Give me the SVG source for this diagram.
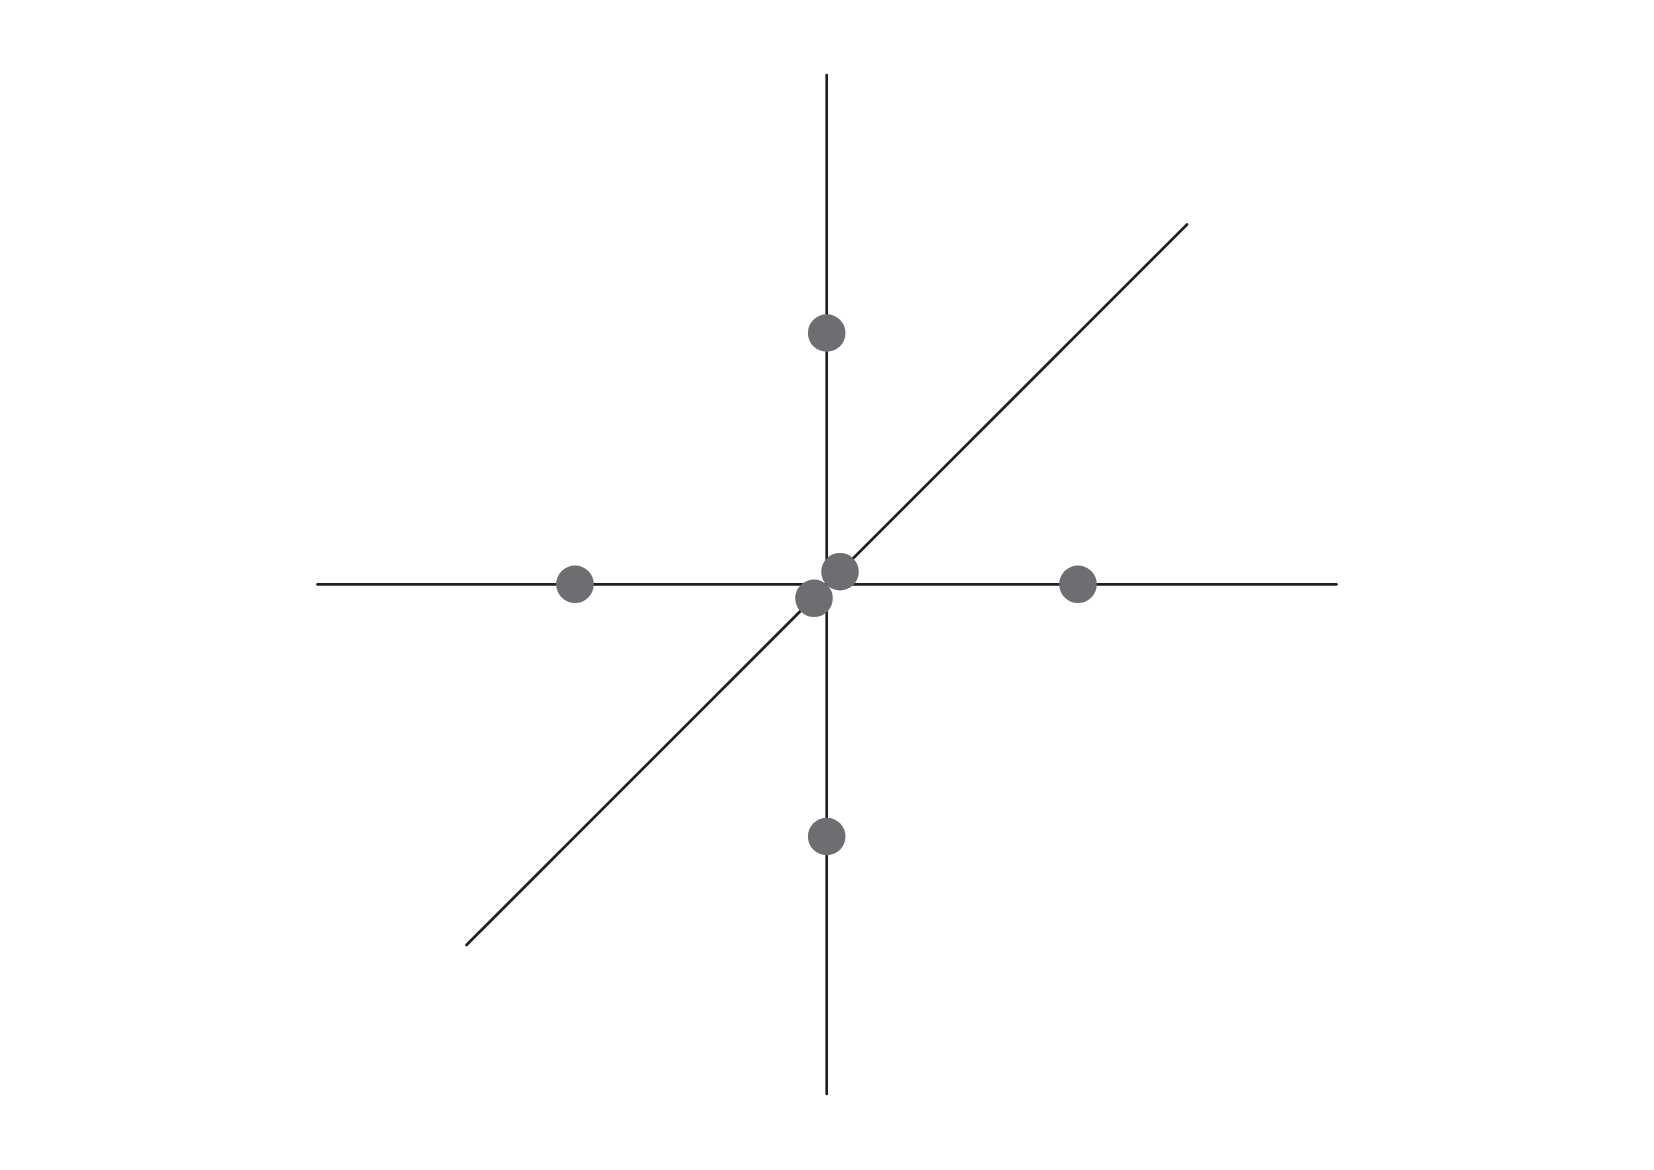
<svg xmlns="http://www.w3.org/2000/svg" width="1654" height="1170" viewBox="0 0 1654 1170">
<style>
.ln{stroke:#231f20;stroke-width:2.7;stroke-linecap:round;fill:none}
.pt{fill:#6d6e71}
</style>
<rect width="1654" height="1170" fill="#fff"/>
<g id="connectors">
<line class="ln" x1="826.7" y1="75" x2="826.7" y2="1094"/>
<line class="ln" x1="317.5" y1="584.3" x2="1336.5" y2="584.3"/>
<line class="ln" x1="466.5" y1="945" x2="1187" y2="224.5"/>
</g>
<g id="node-top"><circle class="pt" cx="826.7" cy="333" r="18.8"/></g>
<g id="node-left"><circle class="pt" cx="575" cy="584.3" r="18.8"/></g>
<g id="node-right"><circle class="pt" cx="1078" cy="584.3" r="18.8"/></g>
<g id="node-bottom"><circle class="pt" cx="826.7" cy="836.5" r="18.8"/></g>
<g id="node-center-upper"><circle class="pt" cx="840" cy="571.7" r="18.8"/></g>
<g id="node-center-lower"><circle class="pt" cx="814" cy="598.3" r="18.8"/></g>
</svg>
